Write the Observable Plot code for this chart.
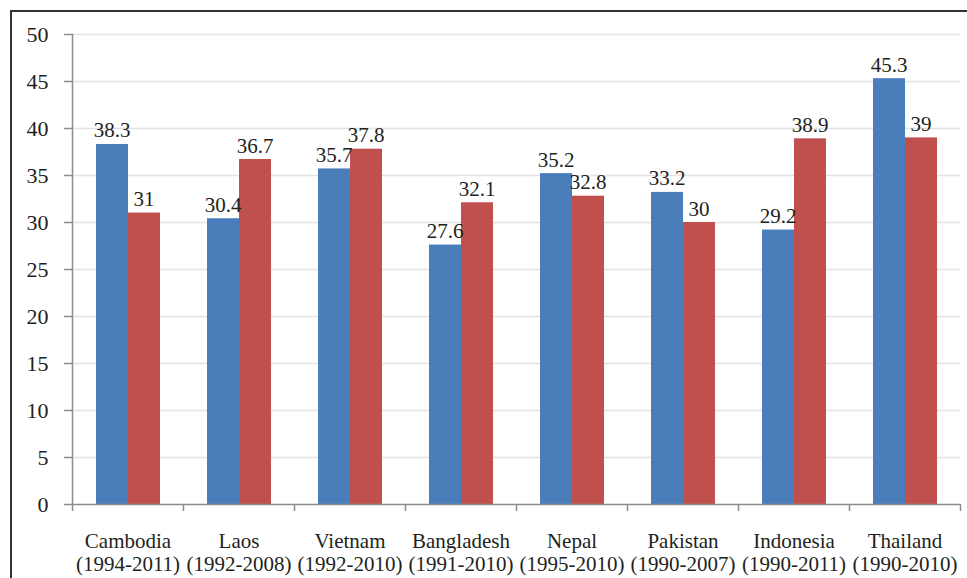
<!DOCTYPE html>
<html><head><meta charset="utf-8">
<script src="https://cdn.jsdelivr.net/npm/d3@7"></script>
<script src="https://cdn.jsdelivr.net/npm/@observablehq/plot@0.6"></script>
<style>
body{margin:0;background:#fff;width:967px;height:578px;overflow:hidden;position:relative}
#frame{position:absolute;left:10px;top:10px;width:1000px;height:1000px;border:2px solid #333;box-sizing:border-box}
#chart{position:absolute;left:0;top:0}
</style></head>
<body><div id="frame"></div><div id="chart"></div>
<script>
const countries = ["Cambodia","Laos","Vietnam","Bangladesh","Nepal","Pakistan","Indonesia","Thailand"];
const periods = ["(1994-2011)","(1992-2008)","(1992-2010)","(1991-2010)","(1995-2010)","(1990-2007)","(1990-2011)","(1990-2010)"];
const firstValues = [38.3,30.4,35.7,27.6,35.2,33.2,29.2,45.3];
const lastValues = [31,36.7,37.8,32.1,32.8,30,38.9,39];
const yTicks = [0,5,10,15,20,25,30,35,40,45,50];

const first = countries.map((c,i)=>({country:c, period:periods[i], value:firstValues[i]}));
const last = countries.map((c,i)=>({country:c, period:periods[i], value:lastValues[i]}));

const blue = "#4a7ebb", red = "#c0504d", gray = "#8c8c8c", ink = "#231f20";
const font = "Liberation Serif";

const plot = Plot.plot({
  width: 967, height: 578,
  marginLeft: 72, marginRight: 7, marginTop: 34, marginBottom: 74,
  style: "background: transparent; font-family: 'Liberation Serif', serif;",
  x: {domain: countries, padding: 0, axis: null},
  y: {domain: [0, 50], axis: null},
  marks: [
    Plot.ruleY(yTicks.filter(d => d > 0), {stroke: "#e3e3e3", strokeWidth: 1.5}),
    Plot.barY(first, {x: "country", y: "value", fill: blue, insetLeft: 24, insetRight: 55}),
    Plot.barY(last, {x: "country", y: "value", fill: red, insetLeft: 56, insetRight: 23}),
    Plot.text(first, {x: "country", y: "value", text: d => String(d.value), dx: -16, dy: -7, lineAnchor: "bottom", fontSize: 21, fontFamily: font, fill: ink}),
    Plot.text(last, {x: "country", y: "value", text: d => String(d.value), dx: 16, dy: -7, lineAnchor: "bottom", fontSize: 21, fontFamily: font, fill: ink}),
    Plot.ruleY([0], {stroke: gray, strokeWidth: 1.5}),
    Plot.frame({anchor: "left", stroke: gray, strokeWidth: 1.5}),
    Plot.axisY({ticks: yTicks, tickSize: 8, tickPadding: 16, fontSize: 22, fontFamily: font, stroke: gray, strokeWidth: 1.5, fill: ink, label: null}),
    Plot.ruleX(countries, {x: d => d, dx: -55.5, y1: 0, y2: -0.75, stroke: gray, strokeWidth: 1.5}),
    Plot.ruleX(countries.slice(-1), {x: d => d, dx: 55.5, y1: 0, y2: -0.75, stroke: gray, strokeWidth: 1.5}),
    Plot.text(first, {x: "country", y: 0, text: d => d.country + "\n" + d.period, lineAnchor: "top", dy: 27, lineHeight: 1.1, fontSize: 21, fontFamily: font, fill: ink})
  ]
});
document.getElementById("chart").appendChild(plot);
</script>
</body></html>
